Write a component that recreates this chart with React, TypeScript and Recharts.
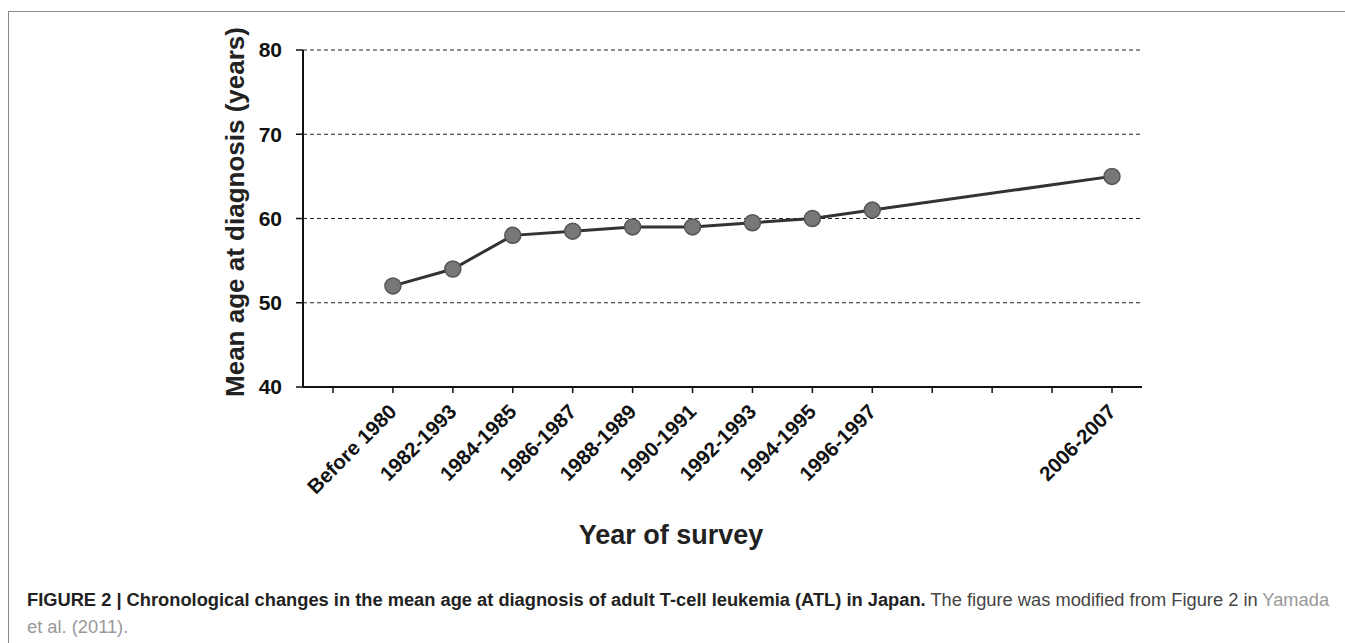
import { LineChart, Line, XAxis, YAxis, CartesianGrid } from "recharts"

const surveys = [
  "",
  "Before 1980",
  "1982-1993",
  "1984-1985",
  "1986-1987",
  "1988-1989",
  "1990-1991",
  "1992-1993",
  "1994-1995",
  "1996-1997",
  "",
  "",
  "",
  "2006-2007",
]
const meanAge = [null, 52, 54, 58, 58.5, 59, 59, 59.5, 60, 61, null, null, null, 65]
const yTicks = [40, 50, 60, 70, 80]

const data = surveys.map((s, i) => ({ survey: s, age: meanAge[i] }))

const font = "'Liberation Sans', Arial, Helvetica, sans-serif"

function SurveyTick({ x, y, payload }: any) {
  if (!payload.value) return null
  return (
    <g transform={`translate(${x + 5},${y + 18})`}>
      <text
        textAnchor="end"
        transform="rotate(-45)"
        fontFamily={font}
        fontWeight="bold"
        fontSize={20.5}
        fill="#111"
      >
        {payload.value}
      </text>
    </g>
  )
}

export default function App() {
  return (
    <div style={{ position: "fixed", left: 0, top: 0, width: 1345, height: 643, background: "#fff", overflow: "hidden", fontFamily: font }}>
      <div
        style={{
          position: "absolute",
          left: 8,
          top: 11,
          width: 1345,
          height: 700,
          borderLeft: "1px solid #8a8a8a",
          borderTop: "1px solid #8a8a8a",
        }}
      />

      <div style={{ position: "absolute", left: 0, top: 0 }}>
        <LineChart width={1345} height={510} data={data} margin={{ top: 50, right: 203, left: 0, bottom: 0 }}>
          <CartesianGrid vertical={false} stroke="#222" strokeDasharray="4 3" />
          <XAxis
            dataKey="survey"
            interval={0}
            height={123}
            padding={{ left: 30, right: 30 }}
            tickSize={6}
            tick={<SurveyTick />}
            axisLine={{ stroke: "#111", strokeWidth: 2 }}
            tickLine={{ stroke: "#111", strokeWidth: 1.5 }}
          />
          <YAxis
            width={303}
            domain={[40, 80]}
            ticks={yTicks}
            tickSize={7}
            tickMargin={14}
            axisLine={{ stroke: "#111", strokeWidth: 2 }}
            tickLine={{ stroke: "#111", strokeWidth: 1.5 }}
            tick={{ fill: "#111", fontSize: 21, fontWeight: "bold", fontFamily: font }}
          />
          <Line
            type="linear"
            dataKey="age"
            stroke="#333"
            strokeWidth={3}
            connectNulls
            isAnimationActive={false}
            dot={{ r: 8, fill: "#777", stroke: "#555", strokeWidth: 1.5 }}
          />
        </LineChart>
      </div>

      <div
        style={{
          position: "absolute",
          left: 235,
          top: 212,
          transform: "translate(-50%, -50%) rotate(-90deg)",
          whiteSpace: "nowrap",
          fontSize: 26,
          fontWeight: "bold",
          color: "#222",
          lineHeight: "26px",
        }}
      >
        Mean age at diagnosis (years)
      </div>

      <div
        style={{
          position: "absolute",
          left: 671,
          top: 522,
          transform: "translateX(-50%)",
          whiteSpace: "nowrap",
          fontSize: 27,
          fontWeight: "bold",
          color: "#222",
          lineHeight: "27px",
        }}
      >
        Year of survey
      </div>

      <div style={{ position: "absolute", left: 27, top: 586, fontSize: 18.3, lineHeight: "27px", whiteSpace: "nowrap" }}>
        <div>
          <span style={{ fontWeight: "bold", color: "#222" }}>
            FIGURE 2 | Chronological changes in the mean age at diagnosis of adult T-cell leukemia (ATL) in Japan.
          </span>{" "}
          <span style={{ color: "#444" }}>The figure was modified from Figure 2 in </span>
          <span style={{ color: "#999" }}>Yamada</span>
        </div>
        <div style={{ color: "#999" }}>et al. (2011).</div>
      </div>
    </div>
  )
}
